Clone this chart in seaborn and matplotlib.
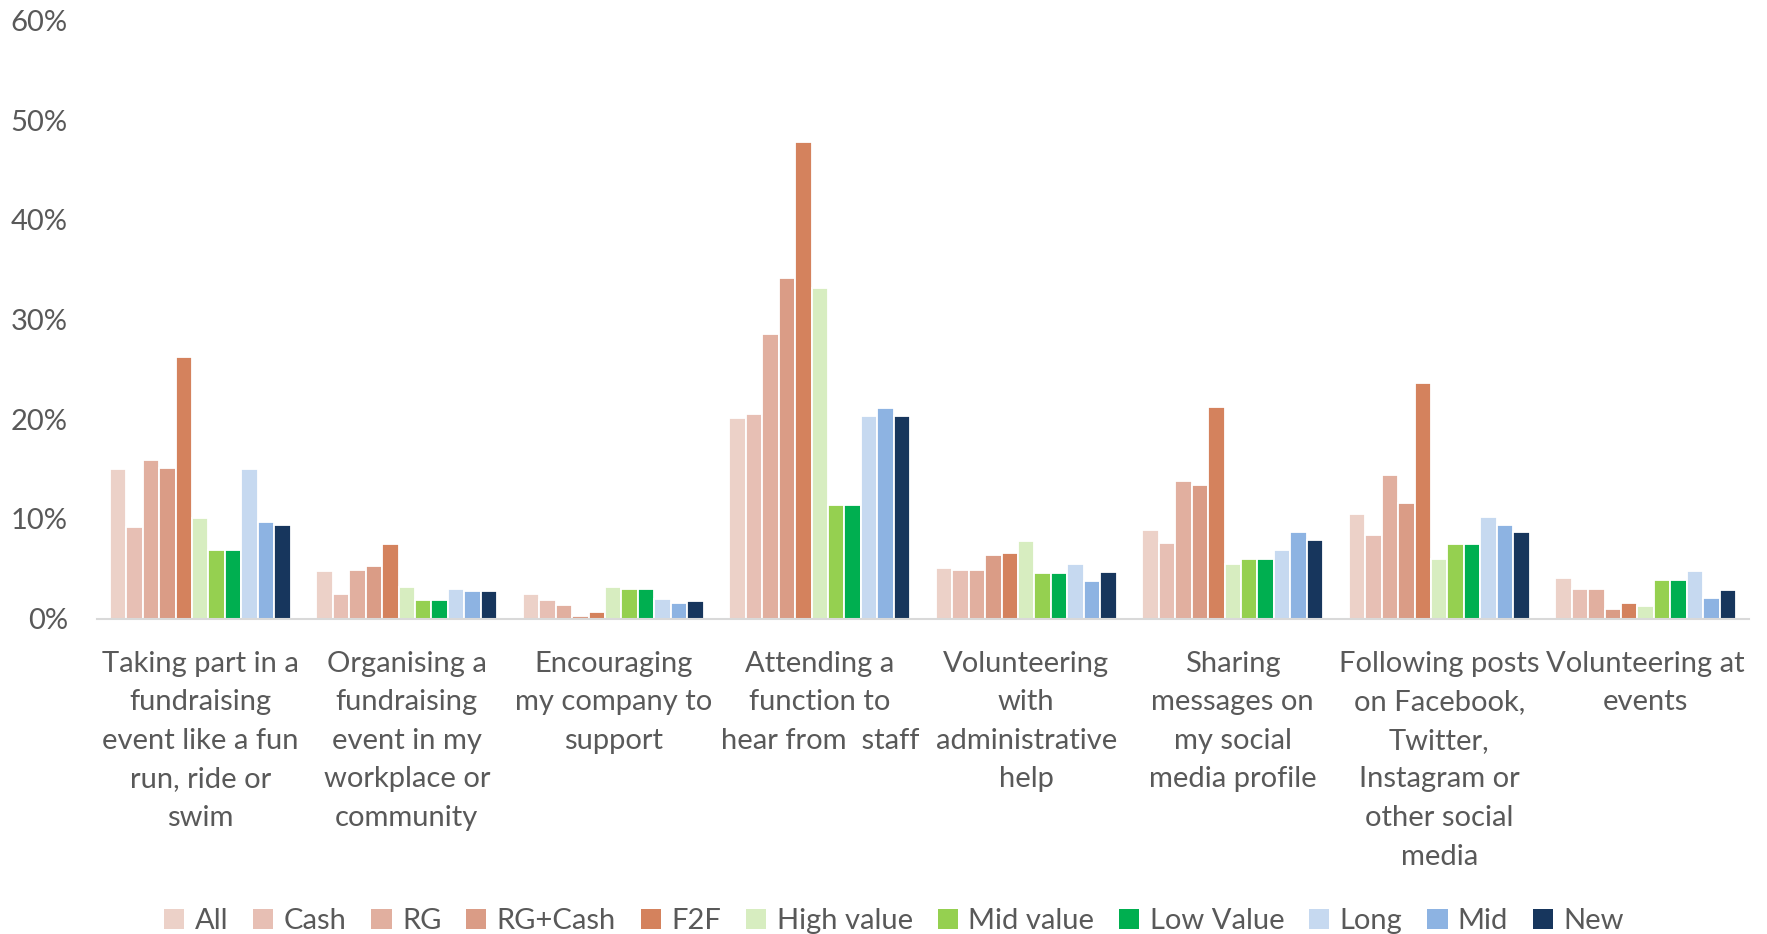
import matplotlib
matplotlib.use("Agg")
import matplotlib.pyplot as plt
from matplotlib.ticker import FuncFormatter, MultipleLocator
from matplotlib.patches import Patch
import seaborn as sns
import pandas as pd

# Activities (x categories), wrapped as they appear under the axis
activities = [
    "Taking part in a\nfundraising\nevent like a fun\nrun, ride or\nswim",
    "Organising a\nfundraising\nevent in my\nworkplace or\ncommunity",
    "Encouraging\nmy company to\nsupport",
    "Attending a\nfunction to\nhear from  staff",
    "Volunteering\nwith\nadministrative\nhelp",
    "Sharing\nmessages on\nmy social\nmedia profile",
    "Following posts\non Facebook,\nTwitter,\nInstagram or\nother social\nmedia",
    "Volunteering at\nevents",
]

segments = ["All", "Cash", "RG", "RG+Cash", "F2F", "High value",
            "Mid value", "Low Value", "Long", "Mid", "New"]

# Share of supporters (%) per segment, one list per activity order above
all_ = [15.0, 4.8, 2.5, 20.1, 5.1, 8.9, 10.5, 4.1]
cash = [9.2, 2.5, 1.9, 20.5, 4.9, 7.6, 8.4, 3.0]
rg = [15.9, 4.9, 1.4, 28.5, 4.9, 13.8, 14.4, 3.0]
rg_cash = [15.1, 5.3, 0.3, 34.2, 6.4, 13.4, 11.6, 1.0]
f2f = [26.2, 7.5, 0.7, 47.8, 6.6, 21.2, 23.6, 1.6]
high_value = [10.1, 3.2, 3.2, 33.2, 7.8, 5.5, 6.0, 1.3]
mid_value = [6.9, 1.9, 3.0, 11.4, 4.6, 6.0, 7.5, 3.9]
low_value = [6.9, 1.9, 3.0, 11.4, 4.6, 6.0, 7.5, 3.9]
long_ = [15.0, 3.0, 2.0, 20.3, 5.5, 6.9, 10.2, 4.8]
mid = [9.7, 2.8, 1.6, 21.1, 3.8, 8.7, 9.4, 2.1]
new = [9.4, 2.8, 1.8, 20.3, 4.7, 7.9, 8.7, 2.9]

series = [all_, cash, rg, rg_cash, f2f, high_value, mid_value,
          low_value, long_, mid, new]

colors = ["#ECD1C8", "#E7BFB4", "#E1AF9F", "#DA9C86", "#D4825D", "#D7EDC0",
          "#95D050", "#00AF50", "#C6D9F0", "#8DB3E2", "#17365D"]

rows = []
for seg, vals in zip(segments, series):
    for act, v in zip(activities, vals):
        rows.append({"activity": act, "segment": seg, "pct": v})
df = pd.DataFrame(rows)

sns.set_style("white")
plt.rcParams["font.family"] = ["Lato", "DejaVu Sans"]
text_color = "#595959"
fs = 21

fig = plt.figure(figsize=(17.67, 9.34), dpi=100)
ax = fig.add_axes([0.0549, 0.3376, 0.9349, 0.6407])

sns.barplot(data=df, x="activity", y="pct", hue="segment",
            order=activities, hue_order=segments, palette=colors,
            width=0.877, edgecolor="white", linewidth=1.3,
            saturation=1, legend=False, ax=ax)

ax.set_ylim(0, 60)
ax.set_xlim(-0.5, len(activities) - 0.5)
ax.yaxis.set_major_locator(MultipleLocator(10))
ax.yaxis.set_major_formatter(FuncFormatter(lambda v, _: f"{v:.0f}%"))
ax.set_xlabel("")
ax.set_ylabel("")

for side in ["top", "right", "left"]:
    ax.spines[side].set_visible(False)
ax.spines["bottom"].set_color("#D9D9D9")
ax.spines["bottom"].set_linewidth(1.5)

ax.tick_params(axis="y", length=0, pad=21, labelsize=fs, labelcolor=text_color)
ax.tick_params(axis="x", length=0, pad=23, labelsize=fs, labelcolor=text_color)
for lbl in ax.get_xticklabels():
    lbl.set_linespacing(1.6)

handles = [Patch(facecolor=c, edgecolor="none", label=s)
           for s, c in zip(segments, colors)]
fig.legend(handles=handles, loc="center", bbox_to_anchor=(0.506, 0.0135),
           ncol=len(segments), frameon=False, fontsize=fs,
           labelcolor=text_color, handlelength=0.7, handleheight=0.7,
           handletextpad=0.35, columnspacing=0.85)

fig.savefig("out.png", dpi=100, facecolor="white")
